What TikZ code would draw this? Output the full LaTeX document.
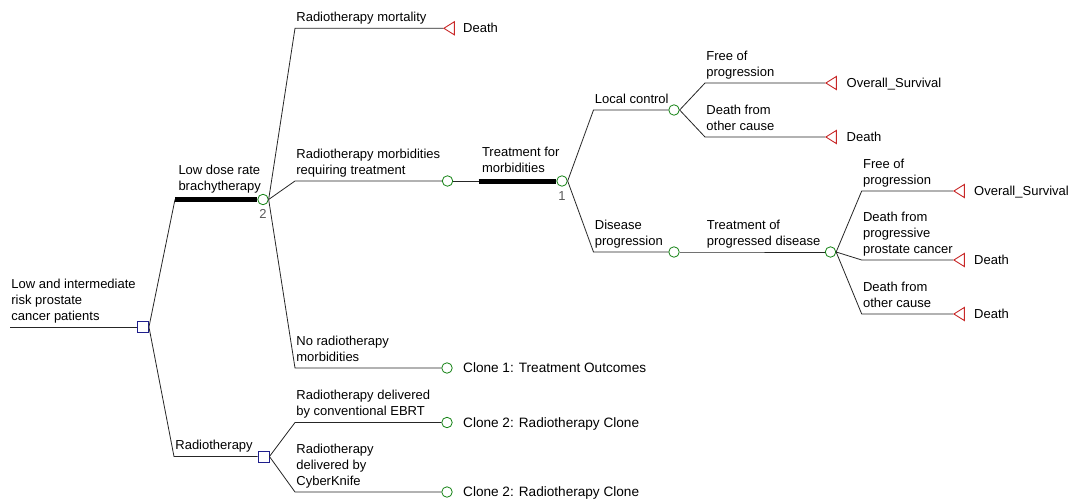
\documentclass[tikz,border=0pt]{standalone}
\usepackage{fontspec}
\setmainfont{Liberation Sans}
\usetikzlibrary{shapes.geometric,positioning}

\definecolor{chancegreen}{RGB}{20,130,20}
\definecolor{decisionblue}{RGB}{30,30,140}
\definecolor{terminalred}{RGB}{200,40,40}

\tikzset{
  every node/.style={font=\fontsize{13pt}{15.8pt}\selectfont},
  chance/.style={circle, draw=chancegreen, line width=0.8pt, minimum size=10.5pt, inner sep=0pt},
  decision/.style={rectangle, draw=decisionblue, line width=0.9pt, minimum size=11pt, inner sep=0pt},
  terminal/.style={isosceles triangle, isosceles triangle apex angle=64, shape border rotate=180,
    draw=terminalred, line width=0.9pt, minimum height=10.5pt, inner sep=0pt, anchor=apex},
  branch/.style={line width=0.8pt, black!85},
  optimal/.style={line width=5pt, black},
  lbl/.style={above right, align=left, text=black, inner xsep=1pt, inner ysep=2.5pt, text depth=4pt},
  leaf/.style={anchor=west, inner sep=0pt, text height=9.2pt, text depth=0pt},
  clonetext/.style={leaf, font=\fontsize{13.6pt}{16pt}\selectfont},
  count/.style={text=black!65, inner sep=1pt}
}

\begin{document}
\begin{tikzpicture}[x=1pt, y=-1pt]
  \useasboundingbox (0,0) rectangle (1070,500);

  % decision and chance nodes
  \coordinate (root) at (10,327);
  \node[decision] (s1) at (143,327) {};
  \coordinate (ldr) at (175,199.5);
  \node[chance] (c2) at (263,199.5) {};
  \coordinate (rt) at (174,456.5);
  \node[decision] (s2) at (263.5,456.5) {};

  \coordinate (mort) at (295,28.3);
  \node[terminal] (tmort) at (443,28.3) {};
  \coordinate (morb) at (295,181);
  \node[chance] (c3) at (447.5,181) {};
  \coordinate (nomorb) at (295,368);
  \node[chance] (clone1) at (447,368) {};
  \coordinate (tfm) at (478.5,181);
  \node[chance] (c4) at (562,181) {};

  \coordinate (lc) at (593.5,110);
  \node[chance] (c5) at (674,110) {};
  \coordinate (dp) at (593.5,252);
  \node[chance] (c6) at (674,252) {};
  \coordinate (lcfree) at (705,83);
  \node[terminal] (tlcfree) at (825,83) {};
  \coordinate (lcother) at (705,137);
  \node[terminal] (tlcother) at (825,137) {};
  \coordinate (tpd) at (705.5,252);
  \node[chance] (c7) at (830.5,252) {};

  \coordinate (dpfree) at (861.7,191);
  \node[terminal] (tdpfree) at (953,191) {};
  \coordinate (dpcancer) at (861.7,260);
  \node[terminal] (tdpcancer) at (953,260) {};
  \coordinate (dpother) at (861.7,314);
  \node[terminal] (tdpother) at (953,314) {};

  \coordinate (ebrt) at (295,422.5);
  \node[chance] (clone2a) at (447,422.5) {};
  \coordinate (ck) at (295,492);
  \node[chance] (clone2b) at (447,492) {};

  % outcome texts
  \node[leaf] (lmort) at (463,28.3) {Death};
  \node[clonetext] (lclone1) at (463,368) {Clone 1: Treatment Outcomes};
  \node[leaf] (llcfree) at (846.5,83) {Overall\_Survival};
  \node[leaf] (llcother) at (846.5,137) {Death};
  \node[leaf] (ldpfree) at (974,191) {Overall\_Survival};
  \node[leaf] (ldpcancer) at (974,260) {Death};
  \node[leaf] (ldpother) at (974,314) {Death};
  \node[clonetext] (lclone2a) at (463,422.5) {Clone 2: Radiotherapy Clone};
  \node[clonetext] (lclone2b) at (463,492) {Clone 2: Radiotherapy Clone};

  \node[count, below=3.5pt of c2] (n2) {2};
  \node[count, below=3.5pt of c4] (n1) {1};

  % branches
  \draw[branch] (root) -- node[lbl, pos=0] {Low and intermediate\\risk prostate\\cancer patients} (s1);
  \draw[branch] (s1.east) -- (ldr);
  \draw[optimal] (ldr) -- node[lbl, pos=0] {Low dose rate\\brachytherapy} (c2);
  \draw[branch] (s1.east) -- (rt) -- node[lbl, pos=0] {Radiotherapy} (s2);

  \draw[branch] (c2.east) -- (mort) -- node[lbl, pos=0] {Radiotherapy mortality} (tmort.apex);
  \draw[branch] (c2.east) -- (morb) -- node[lbl, pos=0] {Radiotherapy morbidities\\requiring treatment} (c3);
  \draw[branch] (c2.east) -- (nomorb) -- node[lbl, pos=0] {No radiotherapy\\morbidities} (clone1);
  \draw[branch] (c3) -- (tfm);
  \draw[optimal] (tfm) -- node[lbl, pos=0] {Treatment for\\morbidities} (c4);

  \draw[branch] (c4.east) -- (lc) -- node[lbl, pos=0] {Local control} (c5);
  \draw[branch] (c4.east) -- (dp) -- node[lbl, pos=0] {Disease\\progression} (c6);
  \draw[branch] (c5.east) -- (lcfree) -- node[lbl, pos=0] {Free of\\progression} (tlcfree.apex);
  \draw[branch] (c5.east) -- (lcother) -- node[lbl, pos=0] {Death from\\other cause} (tlcother.apex);
  \draw[branch] (c6) -- (tpd) -- node[lbl, pos=0] {Treatment of\\progressed disease} (c7);

  \draw[branch] (c7.east) -- (dpfree) -- node[lbl, pos=0] {Free of\\progression} (tdpfree.apex);
  \draw[branch] (c7.east) -- (dpcancer) -- node[lbl, pos=0] {Death from\\progressive\\prostate cancer} (tdpcancer.apex);
  \draw[branch] (c7.east) -- (dpother) -- node[lbl, pos=0] {Death from\\other cause} (tdpother.apex);

  \draw[branch] (s2.east) -- (ebrt) -- node[lbl, pos=0] {Radiotherapy delivered\\by conventional EBRT} (clone2a);
  \draw[branch] (s2.east) -- (ck) -- node[lbl, pos=0] {Radiotherapy\\delivered by\\CyberKnife} (clone2b);
\end{tikzpicture}
\end{document}
